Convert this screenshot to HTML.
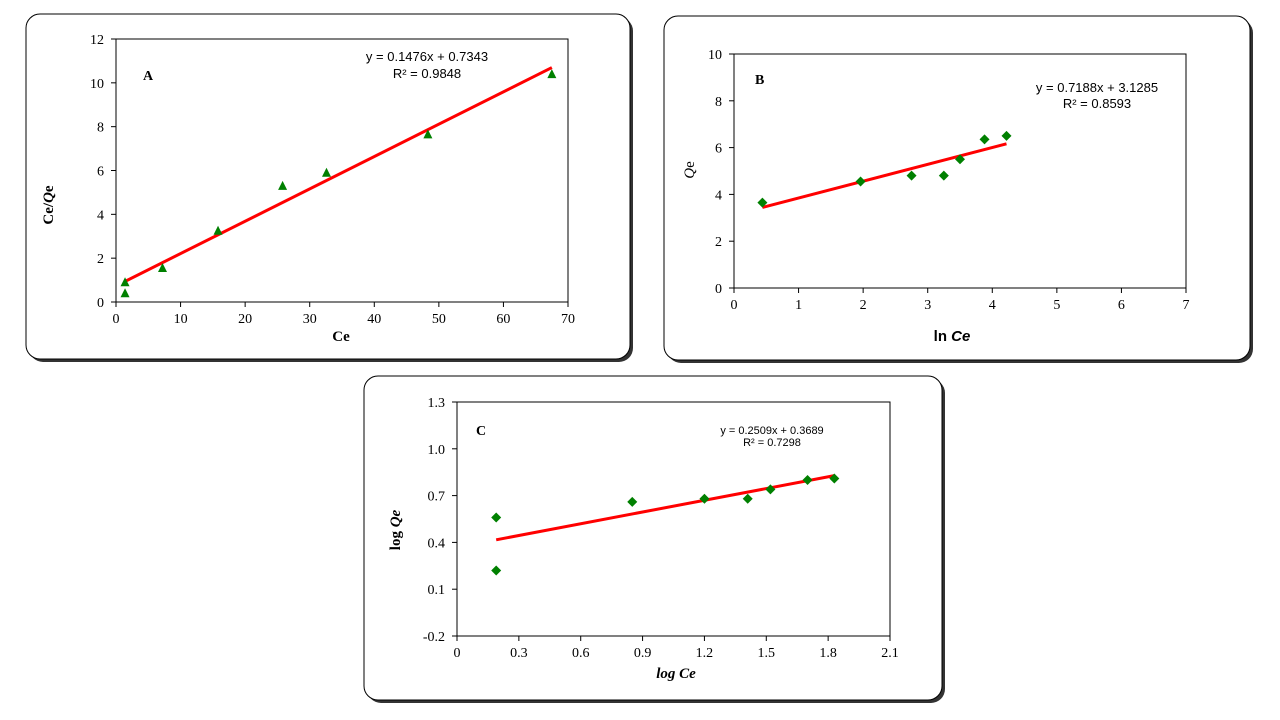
<!DOCTYPE html>
<html><head><meta charset="utf-8"><style>
body{margin:0;width:1280px;height:720px;background:#fff;overflow:hidden;font-family:"Liberation Serif",serif}
svg{position:absolute;left:0;top:0}
</style></head><body>
<svg id="s" width="1280" height="720"></svg>
<script>
const aX=[1.4,1.4,7.2,15.8,25.8,32.6,48.3,67.5];
const aY=[0.9,0.4,1.55,3.25,5.3,5.9,7.65,10.4];
const bX=[0.44,1.96,2.75,3.25,3.5,3.88,4.22];
const bY=[3.65,4.55,4.8,4.8,5.5,6.35,6.5];
const cX=[0.19,0.19,0.85,1.2,1.41,1.52,1.7,1.83];
const cY=[0.56,0.22,0.66,0.68,0.68,0.74,0.8,0.81];
const aXT=[0,10,20,30,40,50,60,70], aYT=[0,2,4,6,8,10,12];
const bXT=[0,1,2,3,4,5,6,7], bYT=[0,2,4,6,8,10];
const cXT=["0","0.3","0.6","0.9","1.2","1.5","1.8","2.1"], cYT=["-0.2","0.1","0.4","0.7","1.0","1.3"];
const fitA=[0.1476,0.7343], fitB=[0.7188,3.1285], fitC=[0.2509,0.3689];
const NS="http://www.w3.org/2000/svg", S=document.getElementById('s');
function el(t,a,p){const e=document.createElementNS(NS,t);for(const k in a)e.setAttribute(k,a[k]);(p||S).appendChild(e);return e;}
function panel(o){
 const g=el('g',{});
 
 
 const b=o.box;
 el('rect',{x:b[0]+3,y:b[1]+3,width:b[2]-b[0],height:b[3]-b[1],rx:14,fill:'#333'},g);
 const fr=el('rect',{x:b[0],y:b[1],width:b[2]-b[0],height:b[3]-b[1],rx:14,fill:'#fff',stroke:'#000','stroke-width':1},g);
 
 const p=o.plot,xmin=o.xr[0],xmax=o.xr[1],ymin=o.yr[0],ymax=o.yr[1];
 const X=v=>p[0]+(v-xmin)/(xmax-xmin)*(p[2]-p[0]), Y=v=>p[3]-(v-ymin)/(ymax-ymin)*(p[3]-p[1]);
 const pa=el('rect',{x:p[0],y:p[1],width:p[2]-p[0],height:p[3]-p[1],fill:'none',stroke:'#000','stroke-width':1},g);
 
 o.xt.forEach(t=>{const v=parseFloat(t),x=X(v);el('line',{x1:x,x2:x,y1:p[3],y2:p[3]+5,stroke:'#000'},g);
  const tx=el('text',{x:x,y:p[3]+21,'text-anchor':'middle','font-size':14},g);tx.textContent=t;
  });
 o.yt.forEach(t=>{const v=parseFloat(t),y=Y(v);el('line',{x1:p[0]-5,x2:p[0],y1:y,y2:y,stroke:'#000'},g);
  const tx=el('text',{x:p[0]-12,y:y+5,'text-anchor':'end','font-size':14},g);tx.textContent=t;
  });
 const x0=Math.min(...o.xs),x1=Math.max(...o.xs);
 const ln=el('line',{x1:X(x0),y1:Y(o.fit[0]*x0+o.fit[1]),x2:X(x1),y2:Y(o.fit[0]*x1+o.fit[1]),stroke:'#f00','stroke-width':3},g);
 
 o.xs.forEach((xv,i)=>{const cx=X(xv),cy=Y(o.ys[i]);let m;
  if(o.tri)m=el('polygon',{points:`${cx},${cy-5} ${cx-4.5},${cy+4} ${cx+4.5},${cy+4}`,fill:'#008000'},g);
  else m=el('polygon',{points:`${cx},${cy-5} ${cx+5},${cy} ${cx},${cy+5} ${cx-5},${cy}`,fill:'#008000'},g);
  });
 o.texts.forEach(t=>{const tx=el('text',t.a,g);tx.innerHTML=t.s;
  });
}
const ar='font-family="Liberation Sans"';
panel({name:'panel-a',box:[26,14,630,359],plot:[116,39,568,302],xr:[0,70],yr:[0,12],xt:aXT.map(String),yt:aYT.map(String),xs:aX,ys:aY,fit:fitA,tri:true,
 texts:[{n:'equation',a:{x:427,y:61,'text-anchor':'middle','font-size':13,'font-family':'Liberation Sans'},s:'y = 0.1476x + 0.7343'},
 {n:'r-squared',a:{x:427,y:78,'text-anchor':'middle','font-size':13,'font-family':'Liberation Sans'},s:'R² = 0.9848'},
 {n:'panel-label',a:{x:143,y:80,'font-size':14,'font-weight':'bold'},s:'A'},
 {n:'x-axis-title',a:{x:341,y:341,'text-anchor':'middle','font-size':15,'font-weight':'bold'},s:'Ce'},
 {n:'y-axis-title',a:{transform:'translate(53,205) rotate(-90)','text-anchor':'middle','font-size':15,'font-weight':'bold'},s:'Ce/<tspan font-style="italic">Q</tspan>e'}]});
panel({name:'panel-b',box:[664,16,1250,360],plot:[734,54,1186,288],xr:[0,7],yr:[0,10],xt:bXT.map(String),yt:bYT.map(String),xs:bX,ys:bY,fit:fitB,
 texts:[{n:'equation',a:{x:1097,y:92,'text-anchor':'middle','font-size':13,'font-family':'Liberation Sans'},s:'y = 0.7188x + 3.1285'},
 {n:'r-squared',a:{x:1097,y:108,'text-anchor':'middle','font-size':13,'font-family':'Liberation Sans'},s:'R² = 0.8593'},
 {n:'panel-label',a:{x:755,y:84,'font-size':14,'font-weight':'bold'},s:'B'},
 {n:'x-axis-title',a:{x:952,y:341,'text-anchor':'middle','font-size':15,'font-weight':'bold','font-family':'Liberation Sans'},s:'ln <tspan font-style="italic">Ce</tspan>'},
 {n:'y-axis-title',a:{transform:'translate(694,170) rotate(-90)','text-anchor':'middle','font-size':15},s:'<tspan font-style="italic">Q</tspan>e'}]});
panel({name:'panel-c',box:[364,376,942,700],plot:[457,402,890,636],xr:[0,2.1],yr:[-0.2,1.3],xt:cXT,yt:cYT,xs:cX,ys:cY,fit:fitC,
 texts:[{n:'equation',a:{x:772,y:434,'text-anchor':'middle','font-size':11,'font-family':'Liberation Sans'},s:'y = 0.2509x + 0.3689'},
 {n:'r-squared',a:{x:772,y:446,'text-anchor':'middle','font-size':11,'font-family':'Liberation Sans'},s:'R² = 0.7298'},
 {n:'panel-label',a:{x:476,y:435,'font-size':14,'font-weight':'bold'},s:'C'},
 {n:'x-axis-title',a:{x:676,y:678,'text-anchor':'middle','font-size':15,'font-weight':'bold','font-style':'italic'},s:'log Ce'},
 {n:'y-axis-title',a:{transform:'translate(400,530) rotate(-90)','text-anchor':'middle','font-size':15,'font-weight':'bold'},s:'log <tspan font-style="italic">Qe</tspan>'}]});
</script>
</body></html>
